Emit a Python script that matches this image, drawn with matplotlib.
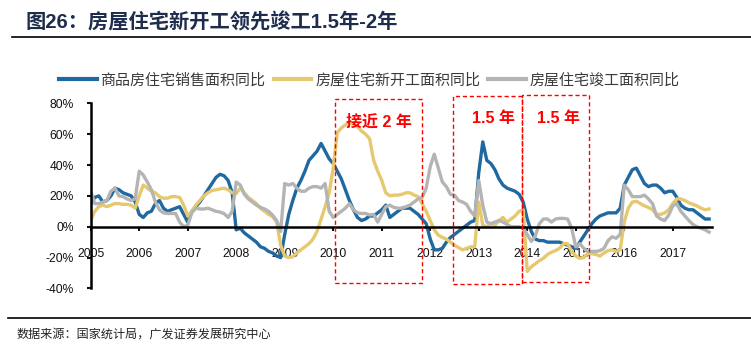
import matplotlib
matplotlib.use('Agg')
import matplotlib.pyplot as plt
from matplotlib.lines import Line2D
from matplotlib.patches import Rectangle
import numpy as np

plt.rcParams['font.family'] = ['Liberation Sans', 'Noto Sans CJK SC', 'DejaVu Sans']

# monthly YoY growth (%), Jan 2005 - Oct 2017
sales = [15, 19, 20, 16, 17, 20, 25, 24, 22, 21, 20, 16,
         8, 6, 9, 10, 15, 17, 12, 10, 11, 12, 13, 8,
         3, 10, 13, 16, 20, 24, 28, 32, 34, 33, 30, 22,
         -2, -1, -4, -6, -8, -10, -13, -14, -16, -17, -19, -20,
         -5, 8, 17, 25, 30, 36, 43, 46, 49, 54, 49, 44,
         41, 36, 31, 24, 17, 11, 6, 4, 5, 7, 7, 9,
         11, 14, 6, 8, 10, 12, 12, 12, 10, 8, 5, 2,
         -8, -15, -15, -14, -10, -7, -5, -3, -1, 1, 3, 4,
         35, 55, 43, 41, 37, 31, 27, 25, 24, 23, 21, 16,
         5, -3, -8, -9, -9, -10, -10, -10, -10, -11, -12, -13,
         -14, -10, -6, -2, 2, 5, 7, 8, 9, 9, 9, 12,
         27, 32, 37, 38, 33, 28, 26, 27, 27, 25, 22, 23,
         23, 19, 14, 12, 11, 11, 9, 7, 5, 5]

starts = [4, 10, 13, 14, 13, 14, 15, 15, 14.5, 14.5, 14, 12,
          20, 27, 25, 23, 22, 19.5, 18.5, 18.5, 19.5, 19.5, 19, 14,
          7, 10, 14, 17, 20, 22, 23.5, 24, 24.5, 25, 24, 22,
          21.5, 25, 22, 19, 17, 15, 12, 10, 8, 6.5, 3, -12,
          -19, -20, -19.5, -17, -15, -13, -11, -8, -3, 5, 13, 22,
          38, 61, 64, 66, 67, 66.5, 65, 62, 60, 57, 43, 36,
          30, 22, 20, 20.5, 20.5, 21, 22, 22, 20.5, 19.5, 15, 10,
          4, -2, -5.5, -7, -8, -10, -12, -13.5, -15, -14, -13, -13,
          16, 1, 0, 2, 1, 4, 6, 3, 5, 7, 10, 11,
          -29, -26, -24, -22, -20.5, -18, -16.5, -15.5, -14, -11, -11, -16,
          -19, -20.5, -20, -17, -17.5, -18, -19, -17, -15.5, -15, -16, -15,
          3, 12, 16, 16.5, 15, 13.5, 12.5, 11, 8, 8, 9, 11,
          15, 18, 18, 17, 15.5, 14.5, 13.5, 12, 11, 11.5]

completions = [23, 15, 15, 16, 17, 23, 25, 20, 19.5, 18, 17, 18,
               36, 33.5, 29, 24, 16, 11, 9, 8.6, 8.6, 8.6, 3, 0,
               1, 9, 12, 11.5, 11.5, 12, 11, 10, 9.5, 8.5, 6, 10,
               29, 27, 21, 18, 16, 14, 12.5, 11.5, 10, 7.5, 4, -3,
               28, 27, 28, 25, 23, 23, 25, 26, 26, 25, 28, 10,
               6, 8, 10, 12, 15, 11, 9, 8.6, 8.6, 7.6, 8, 3,
               8, 13, 14, 12.5, 12, 12, 13, 14, 16, 18, 19, 25,
               39, 47, 38, 29, 26, 21, 20.5, 17, 16, 14.5, 10, 7,
               30, 14, 3, 2, 3, 4, 3, 1.5, 0, 0, 0, -1,
               -5, -9.5, -6, 2, 5, 5, 3, 5, 5.4, 5.4, 5, -1,
               -13, -11, -14, -16, -16, -16, -15.5, -14, -9, -6.5, -7.5, -5,
               27, 24, 19.5, 19.5, 19.5, 20.5, 18, 15, 7, 5, 4, 7.5,
               13.5, 15, 10, 7, 4, 1.5, 0, -1, -2, -3.5]

labels = ['商品房住宅销售面积同比', '房屋住宅新开工面积同比', '房屋住宅竣工面积同比']
colors = ['#1f69a0', '#e6c86e', '#b4b4b4']
years = list(range(2005, 2018))

# lead-time boxes: (x0, x1, y0, y1) and their notes
boxes = [(2010.04, 2011.84, -36.7, 82.6),
         (2012.46, 2013.90, -37.1, 84.7),
         (2013.89, 2015.28, -36.0, 85.3)]
notes = [(2010.94, 68, '接近 2 年'), (2013.30, 70.4, '1.5 年'), (2014.64, 70.4, '1.5 年')]

t = 2005 + np.arange(len(sales)) / 12.0

fig = plt.figure(figsize=(7.51, 3.59), dpi=100)
ax = fig.add_axes([0.1208, 0.1966, 0.8273, 0.5156])

for series, c, lab in zip([sales, starts, completions], colors, labels):
    ax.plot(t, series, color=c, lw=2.4, label=lab, solid_joinstyle='round')

ax.set_xlim(2005, 2017.81)
ax.set_ylim(-40, 80)
ax.set_yticks([-40, -20, 0, 20, 40, 60, 80])
ax.set_yticklabels(['%d%%' % v for v in [-40, -20, 0, 20, 40, 60, 80]])
ax.set_xticks(years)
ax.set_xticklabels([str(y) for y in years])

for s in ['top', 'right']:
    ax.spines[s].set_visible(False)
ax.spines['bottom'].set_position(('data', 0))
ax.spines['bottom'].set_linewidth(1.8)
ax.spines['left'].set_linewidth(1.8)
ax.tick_params(axis='y', direction='out', length=3, width=1.5, pad=9,
               labelsize=8.7, colors='#111111')
ax.tick_params(axis='x', direction='out', length=3, width=1.5, pad=12.5,
               labelsize=8.7, colors='#111111')

for x0, x1, y0, y1 in boxes:
    ax.add_patch(Rectangle((x0, y0), x1 - x0, y1 - y0, fill=False,
                           edgecolor='red', lw=1.0, linestyle=(0, (3, 2)),
                           clip_on=False, zorder=5))
for x, y, txt in notes:
    ax.text(x, y, txt, color='red', fontsize=11.5, fontweight='bold',
            ha='center', va='center', zorder=6)

handles = [Line2D([], [], color=c, lw=3) for c in colors]
fig.legend(handles, labels, loc='center left', bbox_to_anchor=(59.3 / 751, 1 - 80 / 359),
           ncol=3, frameon=False, fontsize=10.8, handlelength=2.5,
           handletextpad=0.25, columnspacing=0.55, borderpad=0, borderaxespad=0,
           labelcolor='#3a3a3a')

fig.text(25 / 751, 1 - 22 / 359, '图26：房屋住宅新开工领先竣工1.5年-2年', fontsize=14.6,
         fontweight='bold', color='#1f2d4d', va='center', ha='left')
fig.add_artist(Line2D([12 / 751, 1], [1 - 37.3 / 359] * 2, color='black', lw=1.2))
fig.add_artist(Line2D([8 / 751, 1], [1 - 318 / 359] * 2, color='black', lw=1.2))
fig.text(17 / 751, 1 - 335 / 359, '数据来源：国家统计局，广发证券发展研究中心', fontsize=8.7,
         color='#222222', va='center', ha='left')

fig.savefig('out.png', dpi=100)
